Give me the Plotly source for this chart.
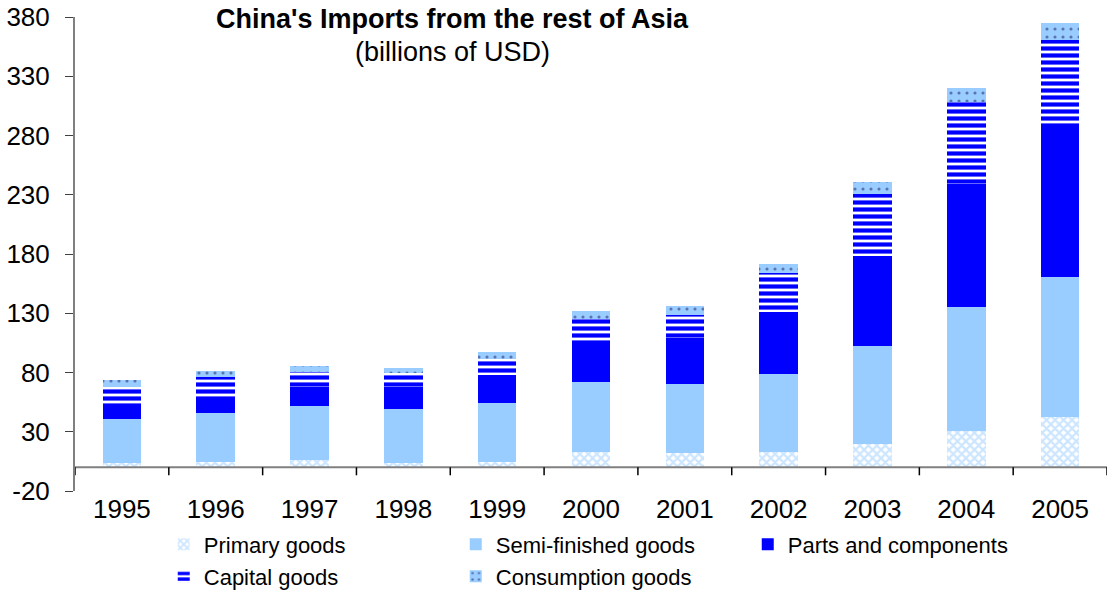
import plotly.graph_objects as go

years = ["1995", "1996", "1997", "1998", "1999", "2000", "2001", "2002", "2003", "2004", "2005"]
primary = [3.9, 4.7, 6.2, 3.9, 4.7, 12.9, 12.1, 12.9, 19.7, 30.6, 42.7]
semi = [36.9, 41.1, 45.5, 45.3, 49.8, 59.1, 58.2, 65.8, 82.7, 104.9, 118.1]
parts = [12.6, 13.5, 16.1, 18.6, 23.4, 32.9, 38.6, 52.3, 76.2, 103.5, 126.6]
capital = [14.6, 17.2, 12.9, 11.5, 13.2, 20.2, 19.6, 33.0, 51.8, 69.0, 73.2]
consumption = [5.9, 4.8, 4.8, 4.5, 6.2, 7.1, 7.9, 7.6, 10.4, 12.0, 14.6]
y_ticks = [-20, 30, 80, 130, 180, 230, 280, 330, 380]

FONT = "Liberation Sans, Arial, sans-serif"
fig = go.Figure()

fig.add_bar(x=years, y=primary, name="Primary goods", legend="legend",
            marker=dict(color="white", line=dict(width=0),
                        pattern=dict(shape="x", fgcolor="#99CCFF", bgcolor="white",
                                     size=6, solidity=0.6)))
fig.add_bar(x=years, y=semi, name="Semi-finished goods", legend="legend",
            marker=dict(color="#99CCFF", line=dict(width=0)))
fig.add_bar(x=years, y=parts, name="Parts and components", legend="legend",
            marker=dict(color="#0000FF", line=dict(width=0)))
fig.add_bar(x=years, y=capital, name="Capital goods", legend="legend2",
            marker=dict(color="white", line=dict(width=0),
                        pattern=dict(shape="-", fgcolor="#0000FF", fgopacity=1,
                                     bgcolor="white", size=7, solidity=0.6)))
fig.add_bar(x=years, y=consumption, name="Consumption goods", legend="legend2",
            marker=dict(color="#99CCFF", line=dict(width=0),
                        pattern=dict(shape=".", fgcolor="#1a1a66", bgcolor="#99CCFF",
                                     size=8, solidity=0.12)))

n = len(years)
shapes = [dict(type="line", xref="paper", yref="y", x0=0, x1=1, y0=0, y1=0,
               line=dict(color="#808080", width=2))]
for i in range(n + 1):
    shapes.append(dict(type="line", xref="x", yref="y", x0=i - 0.5, x1=i - 0.5,
                       ysizemode="pixel", yanchor=0, y0=0, y1=-8,
                       line=dict(color="black", width=1.5)))

fig.update_layout(
    barmode="stack",
    bargap=0.59,
    width=1107, height=594,
    margin=dict(l=75, r=0, t=17, b=103, autoexpand=False),
    plot_bgcolor="white", paper_bgcolor="white",
    font=dict(family=FONT, color="black"),
    showlegend=True,
    xaxis=dict(type="category", range=[-0.5, n - 0.5], showline=False, ticks="",
               showgrid=False, zeroline=False, tickfont=dict(size=26, family=FONT)),
    yaxis=dict(range=[-20, 380], tickmode="array", tickvals=y_ticks,
               ticktext=[str(v) for v in y_ticks],
               showgrid=False, zeroline=False, showline=True, linecolor="#808080",
               linewidth=2, ticks="outside", ticklen=8, tickcolor="#404040",
               ticklabelstandoff=10, tickfont=dict(size=26, family=FONT)),
    legend=dict(orientation="h", x=0.086, xanchor="left", y=-0.113, yanchor="middle",
                entrywidth=247, entrywidthmode="pixels", font=dict(size=22, family=FONT),
                bgcolor="rgba(0,0,0,0)", traceorder="normal"),
    legend2=dict(orientation="h", x=0.086, xanchor="left", y=-0.1804, yanchor="middle",
                 entrywidth=247, entrywidthmode="pixels", font=dict(size=22, family=FONT),
                 bgcolor="rgba(0,0,0,0)", traceorder="normal"),
    shapes=shapes,
    annotations=[
        dict(text="<b>China's Imports from the rest of Asia</b>", xref="paper", yref="paper",
             x=(452 - 75) / 1032, y=1.0 - 2 / 474, xanchor="center", yanchor="middle",
             showarrow=False, font=dict(size=27, family=FONT)),
        dict(text="(billions of USD)", xref="paper", yref="paper",
             x=(452 - 75) / 1032, y=1.0 - 35 / 474, xanchor="center", yanchor="middle",
             showarrow=False, font=dict(size=27, family=FONT)),
    ],
)

fig.write_html("out.html")
